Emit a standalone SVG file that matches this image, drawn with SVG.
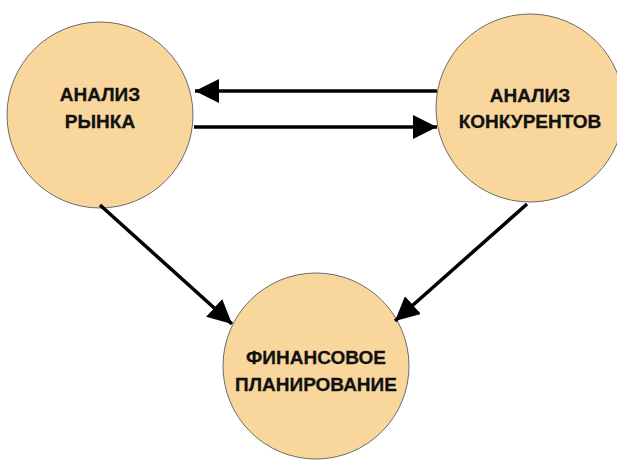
<svg xmlns="http://www.w3.org/2000/svg" width="617" height="463" viewBox="0 0 617 463">
<defs>
<style>
.node circle{fill:#F9D79C;stroke:#6b6b6b;stroke-width:1}
.node text{font-family:"Liberation Sans",Arial,sans-serif;font-weight:bold;font-size:19px;fill:#111;stroke:#111;stroke-width:0.3;text-anchor:middle}
.conn line{stroke:#000;stroke-width:3.5}
</style>
<marker id="ah" viewBox="0 0 24 24" refX="24" refY="12" markerWidth="24" markerHeight="24" markerUnits="userSpaceOnUse" orient="auto">
<path d="M0,0 L24,12 L0,24 Z" fill="#000"/>
</marker>
</defs>
<rect width="617" height="463" fill="#fff"/>
<g id="node-market" class="node">
<circle cx="100" cy="115" r="93"/>
<text x="100" y="101">АНАЛИЗ</text>
<text x="100" y="128">РЫНКА</text>
</g>
<g id="node-competitors" class="node">
<circle cx="530" cy="108" r="94"/>
<text x="530" y="102">АНАЛИЗ</text>
<text x="530" y="128">КОНКУРЕНТОВ</text>
</g>
<g id="node-finance" class="node">
<circle cx="316" cy="366" r="93"/>
<text x="316" y="364">ФИНАНСОВОЕ</text>
<text x="316" y="391">ПЛАНИРОВАНИЕ</text>
</g>
<g id="connectors" class="conn">
<line x1="437" y1="91" x2="195" y2="91" marker-end="url(#ah)"/>
<line x1="194" y1="127" x2="437" y2="127" marker-end="url(#ah)"/>
<line x1="100" y1="205" x2="232" y2="324" marker-end="url(#ah)"/>
<line x1="527" y1="204" x2="395" y2="321" marker-end="url(#ah)"/>
</g>
</svg>
